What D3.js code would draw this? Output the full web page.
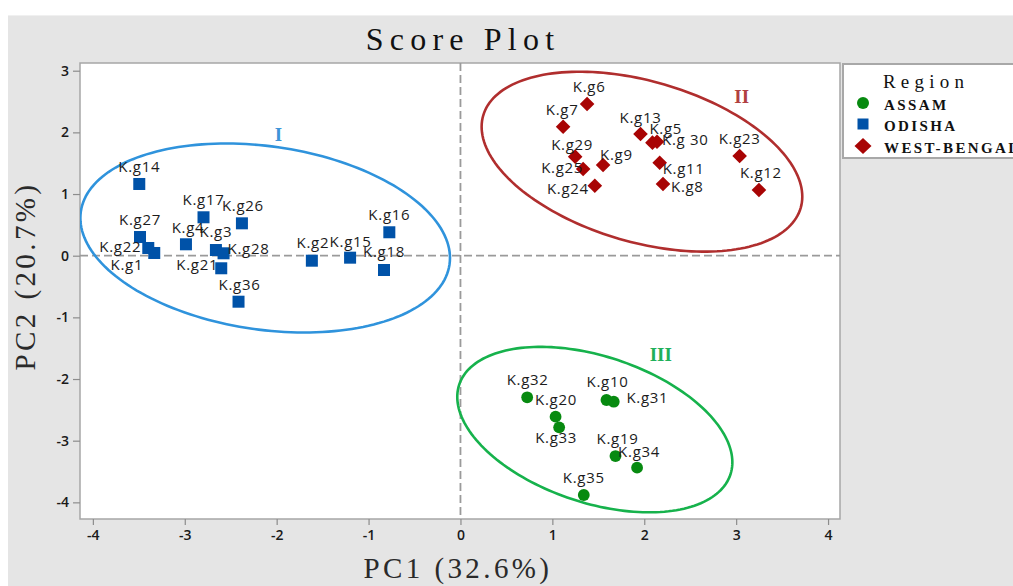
<!DOCTYPE html>
<html>
<head>
<meta charset="utf-8">
<script src="https://cdn.jsdelivr.net/npm/d3@7/dist/d3.min.js"></script>
<style>
  html, body { margin: 0; padding: 0; background: #ffffff; }
  svg { display: block; }
</style>
</head>
<body>
<svg id="chart" width="1013" height="586"></svg>
<script>
// ---- Score data (PC1, PC2) per genotype, grouped by region ----
const regions = ["ASSAM", "ODISHA", "WEST-BENGAL"];

const odishaNames = ["K.g14", "K.g27", "K.g22", "K.g1", "K.g4", "K.g17", "K.g26", "K.g3",
                     "K.g28", "K.g21", "K.g36", "K.g2", "K.g15", "K.g16", "K.g18"];
const odishaPC1 = [-3.495, -3.487, -3.397, -3.332, -2.987, -2.796, -2.378, -2.661,
                   -2.578, -2.603, -2.415, -1.617, -1.201, -0.774, -0.832];
const odishaPC2 = [1.163, 0.303, 0.125, 0.044, 0.185, 0.623, 0.525, 0.092,
                   0.039, -0.204, -0.746, -0.081, -0.032, 0.380, -0.232];

const bengalNames = ["K.g6", "K.g7", "K.g13", "K.g5", "K.g 30", "K.g29", "K.g25", "K.g9",
                     "K.g24", "K.g11", "K.g8", "K.g23", "K.g12"];
const bengalPC1 = [1.378, 1.117, 1.959, 2.089, 2.139, 1.248, 1.335, 1.552,
                   1.462, 2.168, 2.204, 3.038, 3.248];
const bengalPC2 = [2.461, 2.092, 1.974, 1.833, 1.849, 1.606, 1.406, 1.471,
                   1.135, 1.508, 1.163, 1.617, 1.066];

const assamNames = ["K.g32", "K.g20", "K.g33", "K.g10", "K.g31", "K.g19", "K.g34", "K.g35"];
const assamPC1 = [0.726, 1.035, 1.074, 1.589, 1.668, 1.687, 1.922, 1.342];
const assamPC2 = [-2.296, -2.611, -2.783, -2.340, -2.368, -3.249, -3.438, -3.881];

// Cluster ellipses: centre and two semi-axis vectors, in score units
const clusterNames = ["I", "II", "III"];
const clusterCentre = [[-2.125, 0.287], [1.975, 1.5245], [1.462, -2.820]];
const clusterAxisU = [[2.006, -0.4287], [1.7275, -0.7489], [1.4757, -0.7282]];
const clusterAxisV = [[-0.141, -1.4714], [-0.2438, -1.2522], [-0.2498, -1.1271]];
const clusterTagAt = [[-1.98, 1.86], [3.06, 2.48], [2.18, -1.71]];

const xTicks = [-4, -3, -2, -1, 0, 1, 2, 3, 4];
const yTicks = [3, 2, 1, 0, -1, -2, -3, -4];

// ---- Styling ----
const colours = {
  "ASSAM": "#078a10",
  "ODISHA": "#0052a8",
  "WEST-BENGAL": "#a80404"
};
const ellipseColours = ["#2f93dc", "#b02e2e", "#16b24c"];
const tagColours = ["#3d95d8", "#b04040", "#1fb05a"];
const serif = "Liberation Serif, DejaVu Serif, serif";

// label placement around each marker: [anchor, dx, dy]
const labelPlace = {
  "K.g14": ["middle", 0, -12], "K.g27": ["middle", 0, -12], "K.g22": ["end", -7, 4],
  "K.g1": ["end", -11, 17], "K.g4": ["middle", 2, -11], "K.g17": ["middle", 0, -12],
  "K.g26": ["middle", 1, -12.5], "K.g3": ["middle", 0, -13], "K.g28": ["start", 4, 1],
  "K.g21": ["end", -3, 2], "K.g36": ["middle", 1, -11.7], "K.g2": ["middle", 1, -12.4],
  "K.g15": ["middle", 0.5, -11], "K.g16": ["middle", 0, -12.3], "K.g18": ["middle", 0, -12.7],
  "K.g6": ["middle", 2, -12.3], "K.g7": ["middle", -1, -11.7], "K.g13": ["middle", 0, -11.3],
  "K.g5": ["start", -3, -8.7], "K.g 30": ["start", 5, 3.3], "K.g29": ["middle", -3, -6.7],
  "K.g25": ["end", 0, 3.7], "K.g9": ["start", -3, -5], "K.g24": ["end", -6, 8.3],
  "K.g11": ["start", 3, 11.3], "K.g8": ["start", 8, 7.7], "K.g23": ["middle", 0, -12],
  "K.g12": ["middle", 2, -11.7],
  "K.g32": ["middle", 0.5, -12.3], "K.g20": ["middle", 0.5, -11.7], "K.g33": ["middle", -3, 16],
  "K.g10": ["middle", 1, -12.7], "K.g31": ["start", 12.7, 1.7], "K.g19": ["middle", 2, -12],
  "K.g34": ["middle", 2, -11], "K.g35": ["middle", 0, -11.7]
};

// ---- Build point table ----
function rows(region, names, pc1, pc2) {
  return names.map((n, i) => ({ region, name: n, x: pc1[i], y: pc2[i] }));
}
const points = [].concat(
  rows("ODISHA", odishaNames, odishaPC1, odishaPC2),
  rows("WEST-BENGAL", bengalNames, bengalPC1, bengalPC2),
  rows("ASSAM", assamNames, assamPC1, assamPC2)
);

// ---- Layout ----
const svg = d3.select("#chart");
const plot = { left: 80, right: 840, top: 63, bottom: 519 };

const x = d3.scaleLinear().domain([-4.14, 4.13]).range([plot.left, plot.right]);
const y = d3.scaleLinear().domain([3.125, -4.27]).range([plot.top, plot.bottom]);

// background panel
svg.append("rect").attr("x", 8).attr("y", 15).attr("width", 1005).attr("height", 571)
  .attr("fill", "#e5e5e5");
svg.append("line").attr("x1", 8).attr("x2", 1013).attr("y1", 15.5).attr("y2", 15.5)
  .attr("stroke", "#f0f0f0").attr("stroke-width", 1);

// plot area
svg.append("rect").attr("x", plot.left).attr("y", plot.top)
  .attr("width", plot.right - plot.left).attr("height", plot.bottom - plot.top)
  .attr("fill", "#ffffff").attr("stroke", "#a6a6a6").attr("stroke-width", 1.5);

// title
svg.append("text").attr("x", 463).attr("y", 50).attr("text-anchor", "middle")
  .attr("font-family", serif).attr("font-size", 32).attr("letter-spacing", 6.2)
  .attr("fill", "#111").text("Score Plot");

// axes
const intLabel = d => String(d);
const xAxis = d3.axisBottom(x).tickValues(xTicks).tickSize(6).tickPadding(5).tickFormat(intLabel);
const yAxis = d3.axisLeft(y).tickValues(yTicks).tickSize(7).tickPadding(4).tickFormat(intLabel);

const gx = svg.append("g").attr("transform", `translate(0,${plot.bottom})`).call(xAxis);
const gy = svg.append("g").attr("transform", `translate(${plot.left},0)`).call(yAxis);
[gx, gy].forEach(g => {
  g.selectAll(".tick line").attr("stroke", "#8c8c8c").attr("stroke-width", 1.2);
  g.selectAll(".tick text").attr("font-family", "Open Sans, sans-serif")
    .attr("font-weight", 600).attr("font-size", 14).attr("fill", "#1a1a1a");
  g.select(".domain").remove();
});

// axis titles
svg.append("text").attr("x", 458).attr("y", 578).attr("text-anchor", "middle")
  .attr("font-family", serif).attr("font-size", 29).attr("letter-spacing", 3.4)
  .attr("fill", "#2a2a2a").text("PC1 (32.6%)");
svg.append("text").attr("transform", "translate(35,276) rotate(-90)")
  .attr("text-anchor", "middle")
  .attr("font-family", serif).attr("font-size", 29).attr("letter-spacing", 3.4)
  .attr("fill", "#2a2a2a").text("PC2 (20.7%)");

// plotting region clip
svg.append("defs").append("clipPath").attr("id", "plotClip")
  .append("rect").attr("x", plot.left).attr("y", plot.top)
  .attr("width", plot.right - plot.left).attr("height", plot.bottom - plot.top);
const inner = svg.append("g").attr("clip-path", "url(#plotClip)");

// zero reference lines
inner.append("line").attr("x1", x(0)).attr("x2", x(0)).attr("y1", plot.top).attr("y2", plot.bottom)
  .attr("stroke", "#9a9a9a").attr("stroke-width", 1.8).attr("stroke-dasharray", "8,4");
inner.append("line").attr("x1", plot.left).attr("x2", plot.right).attr("y1", y(0)).attr("y2", y(0))
  .attr("stroke", "#9a9a9a").attr("stroke-width", 1.8).attr("stroke-dasharray", "8,4");

// cluster ellipses
const line = d3.line().x(d => x(d[0])).y(d => y(d[1])).curve(d3.curveLinearClosed);
clusterNames.forEach((name, k) => {
  const c = clusterCentre[k], u = clusterAxisU[k], v = clusterAxisV[k];
  const pts = d3.range(0, 180).map(i => {
    const t = (i / 180) * 2 * Math.PI;
    return [c[0] + Math.cos(t) * u[0] + Math.sin(t) * v[0],
            c[1] + Math.cos(t) * u[1] + Math.sin(t) * v[1]];
  });
  inner.append("path").attr("d", line(pts)).attr("fill", "none")
    .attr("stroke", ellipseColours[k]).attr("stroke-width", 2.6);
  inner.append("text").attr("x", x(clusterTagAt[k][0])).attr("y", y(clusterTagAt[k][1]))
    .attr("text-anchor", "middle")
    .attr("font-family", serif).attr("font-weight", "bold")
    .attr("font-size", 19).attr("fill", tagColours[k]).text(name);
});

// markers
const squareSide = 12, diamondHalf = 7.3, circleR = 5.9;
const marks = inner.append("g");
points.forEach(p => {
  const px = x(p.x), py = y(p.y), col = colours[p.region];
  if (p.region === "ODISHA") {
    marks.append("rect").attr("x", px - squareSide / 2).attr("y", py - squareSide / 2)
      .attr("width", squareSide).attr("height", squareSide).attr("fill", col);
  } else if (p.region === "WEST-BENGAL") {
    marks.append("path")
      .attr("d", `M${px},${py - diamondHalf}L${px + diamondHalf},${py}L${px},${py + diamondHalf}L${px - diamondHalf},${py}Z`)
      .attr("fill", col);
  } else {
    marks.append("circle").attr("cx", px).attr("cy", py).attr("r", circleR).attr("fill", col);
  }
});

// point labels
const labels = inner.append("g").attr("font-family", "Open Sans, sans-serif")
  .attr("font-size", 15).attr("letter-spacing", 0.7).attr("fill", "#1c1c1c");
points.forEach(p => {
  const pl = labelPlace[p.name] || ["middle", 0, -12];
  labels.append("text").attr("x", x(p.x) + pl[1]).attr("y", y(p.y) + pl[2])
    .attr("text-anchor", pl[0]).text(p.name);
});

// legend
const lg = svg.append("g");
lg.append("rect").attr("x", 843).attr("y", 64).attr("width", 180).attr("height", 94)
  .attr("fill", "#ffffff").attr("stroke", "#a8a8a8").attr("stroke-width", 2);
lg.append("text").attr("x", 883).attr("y", 88)
  .attr("font-family", serif).attr("font-size", 19)
  .attr("letter-spacing", 5.2).attr("fill", "#111").text("Region");
const legendRows = [103, 124, 146];
regions.forEach((r, i) => {
  const cy = legendRows[i], cx = 863, col = colours[r];
  if (r === "ASSAM") {
    lg.append("circle").attr("cx", cx).attr("cy", cy).attr("r", 6).attr("fill", col);
  } else if (r === "ODISHA") {
    lg.append("rect").attr("x", cx - 5.5).attr("y", cy - 5.5).attr("width", 11).attr("height", 11)
      .attr("fill", col);
  } else {
    lg.append("path").attr("d", `M${cx},${cy - 8}L${cx + 8.5},${cy}L${cx},${cy + 8}L${cx - 8.5},${cy}Z`)
      .attr("fill", col);
  }
  lg.append("text").attr("x", 884).attr("y", cy + 7)
    .attr("font-family", serif).attr("font-weight", "bold")
    .attr("font-size", 15).attr("letter-spacing", 2.4).attr("fill", "#111").text(r);
});
</script>
</body>
</html>
